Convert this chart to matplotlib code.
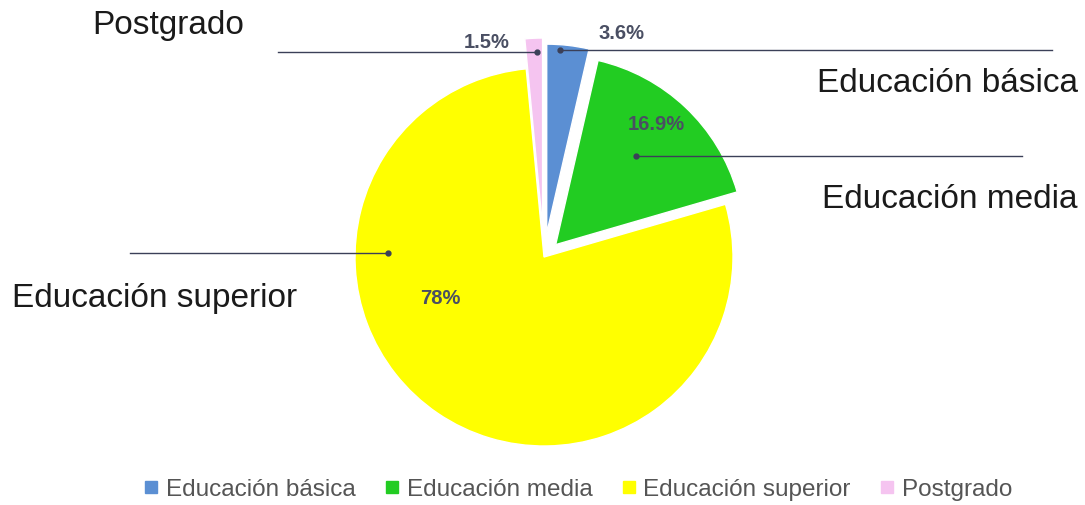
import matplotlib.pyplot as plt
import numpy as np

plt.rcParams['font.family'] = ['Liberation Sans', 'DejaVu Sans']

categories = ["Educación básica", "Educación media", "Educación superior", "Postgrado"]
values = [3.6, 16.9, 78.0, 1.5]
pct_labels = ["3.6%", "16.9%", "78%", "1.5%"]
colors = ["#5b8fd3", "#22cc22", "#ffff00", "#f5c4f0"]

W, H = 1085, 506
fig = plt.figure(figsize=(W / 100, H / 100), dpi=100)
ax = fig.add_axes([0, 0, 1, 1])
ax.set_xlim(0, W)
ax.set_ylim(0, H)
ax.axis("off")

cx, cy, R = 544, H - 258, 189
# explode is in data units (pixels here)
wedges, _ = ax.pie(values, colors=colors, startangle=90, counterclock=False,
                   center=(cx, cy), radius=R, explode=[24, 17, 0, 30],
                   wedgeprops=dict(edgecolor="white", linewidth=1.0))
ax.set_xlim(0, W)
ax.set_ylim(0, H)
ax.set_aspect("equal")

# leader lines: (dot x, dot y, line end x), labels and their positions
leaders = [(560, 51, 1052), (636, 157, 1022), (388, 254, 130), (537, 53, 278)]
name_pos = [(1078, 83, "right"), (1078, 200, "right"), (12, 298, "left"), (92, 25, "left")]
pct_pos = [(621, 33), (656, 125), (440, 298), (487, 42)]

line_col = "#3b4058"
for i, name in enumerate(categories):
    dx, dy, ex = leaders[i]
    ax.plot([dx, ex], [H - dy, H - dy], color=line_col, lw=1.0)
    ax.plot(dx, H - dy, "o", color=line_col, ms=3.5)
    nx, ny, ha = name_pos[i]
    ax.text(nx, H - ny, name, fontsize=24, ha=ha, va="center", color="#1a1a1a")
    px, py = pct_pos[i]
    ax.text(px, H - py, pct_labels[i], fontsize=14.5, fontweight="bold",
            ha="center", va="center", color="#4a4f63")

handles = [plt.Line2D([], [], marker="s", ls="", ms=9, color=c) for c in colors]
leg = ax.legend(handles, categories, ncol=4, loc="center",
                bbox_to_anchor=(578 / W, 1 - 490 / H), frameon=False,
                fontsize=17.5, handlelength=0.6, handletextpad=0.3,
                columnspacing=1.2, labelcolor="#555555")

fig.savefig("out.png", dpi=100)
